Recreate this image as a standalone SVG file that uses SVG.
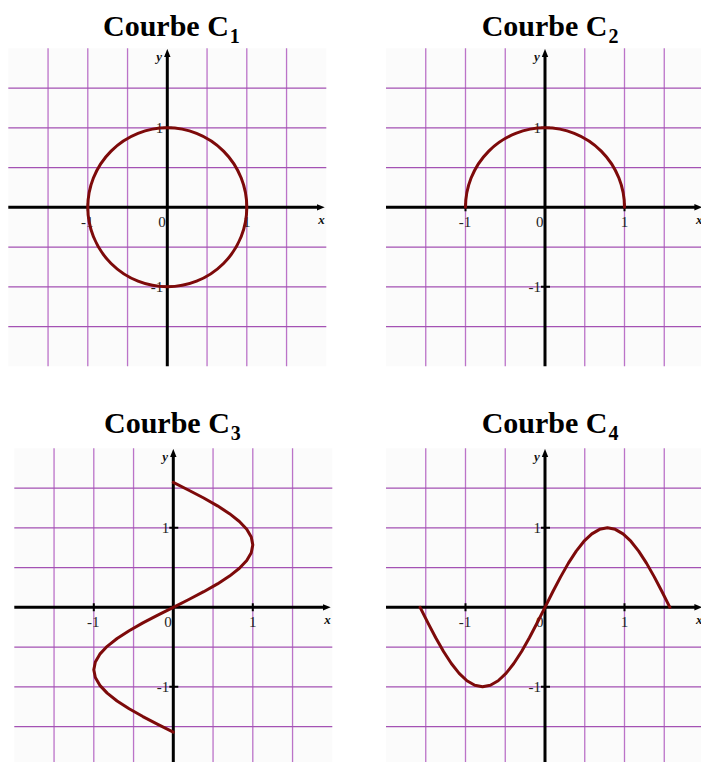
<svg xmlns="http://www.w3.org/2000/svg" width="701" height="762" viewBox="0 0 701 762">
<style>
.bg{fill:#fbfbfb;stroke:none}
.gv{stroke:#bb73c8;stroke-width:1.3;fill:none}
.gh{stroke:#a452b4;stroke-width:1.3;fill:none}
.ax{stroke:#000;stroke-width:3;fill:none}
.tk{stroke:#000;stroke-width:2;fill:none}
.cv{stroke:#7d0a0a;stroke-width:3;fill:none;stroke-linejoin:round;stroke-linecap:round}
.title{font-family:"Liberation Serif","Times New Roman",serif;font-weight:bold;font-size:30px;fill:#000}
.sub{font-size:20px}
.lb{font-family:"Liberation Serif","Times New Roman",serif;font-size:15px;fill:#222}
.al{font-family:"Liberation Serif","Times New Roman",serif;font-style:italic;font-weight:bold;font-size:13px;fill:#111}
</style>
<defs>
<marker id="arr" viewBox="0 0 10 10" refX="2" refY="5" markerWidth="8" markerHeight="8" orient="auto" markerUnits="userSpaceOnUse"><path d="M0,1 L10,5 L0,9 z" fill="#000"/></marker>
<g id="grid">
<rect class="bg" x="-159" y="-159" width="318" height="318"/>
<path class="gv" d="M-119.25,-159V159M-79.5,-159V159M-39.75,-159V159M39.75,-159V159M79.5,-159V159M119.25,-159V159"/>
<path class="gh" d="M-159,-119.25H159M-159,-79.5H159M-159,-39.75H159M-159,39.75H159M-159,79.5H159M-159,119.25H159"/>
<line class="ax" x1="-159" y1="0" x2="151" y2="0" marker-end="url(#arr)"/>
<line class="ax" x1="0" y1="159" x2="0" y2="-152" marker-end="url(#arr)"/>
<path class="tk" d="M-79.5,-4V4M79.5,-4V4M-4,-79.5H5M-4,79.5H5"/>
<text class="lb" x="-80" y="20" text-anchor="middle">-1</text>
<text class="lb" x="-1.5" y="20" text-anchor="end">0</text>
<text class="lb" x="79.5" y="20" text-anchor="middle">1</text>
<text class="lb" x="-4" y="-74.5" text-anchor="end">1</text>
<text class="lb" x="-4" y="85" text-anchor="end">-1</text>
<text class="al" x="151" y="17">x</text>
<text class="al" x="-11" y="-146">y</text>
</g>
</defs>
<g id="panel1">
<text class="title" x="103" y="36">Courbe C<tspan class="sub" dx="1" dy="7">1</tspan></text>
<g transform="translate(167.3,207.3)">
<use href="#grid"/>
<circle class="cv" cx="0" cy="0" r="79.5"/>
</g>
</g>
<g id="panel2">
<text class="title" x="481.7" y="36">Courbe C<tspan class="sub" dx="1" dy="7">2</tspan></text>
<g transform="translate(545,207.3)">
<use href="#grid"/>
<path class="cv" d="M-79.5,0A79.5,79.5 0 0 1 79.5,0"/>
</g>
</g>
<g id="panel3">
<text class="title" x="104" y="433">Courbe C<tspan class="sub" dx="1" dy="7">3</tspan></text>
<g transform="translate(173.3,607.3)">
<use href="#grid"/>
<polyline class="cv" points="0,124.88 -15.51,117.07 -30.42,109.27 -44.17,101.46 -56.22,93.66 -66.10,85.85 -73.45,78.05 -77.97,70.24 -79.5,62.44 -77.97,54.63 -73.45,46.83 -66.10,39.02 -56.22,31.22 -44.17,23.41 -30.42,15.61 -15.51,7.80 0,0 15.51,-7.80 30.42,-15.61 44.17,-23.41 56.22,-31.22 66.10,-39.02 73.45,-46.83 77.97,-54.63 79.5,-62.44 77.97,-70.24 73.45,-78.05 66.10,-85.85 56.22,-93.66 44.17,-101.46 30.42,-109.27 15.51,-117.07 0,-124.88"/>
</g>
</g>
<g id="panel4">
<text class="title" x="481.7" y="433">Courbe C<tspan class="sub" dx="1" dy="7">4</tspan></text>
<g transform="translate(545,607.3)">
<use href="#grid"/>
<polyline class="cv" points="-124.88,0 -117.07,15.51 -109.27,30.42 -101.46,44.17 -93.66,56.22 -85.85,66.10 -78.05,73.45 -70.24,77.97 -62.44,79.5 -54.63,77.97 -46.83,73.45 -39.02,66.10 -31.22,56.22 -23.41,44.17 -15.61,30.42 -7.80,15.51 0,0 7.80,-15.51 15.61,-30.42 23.41,-44.17 31.22,-56.22 39.02,-66.10 46.83,-73.45 54.63,-77.97 62.44,-79.5 70.24,-77.97 78.05,-73.45 85.85,-66.10 93.66,-56.22 101.46,-44.17 109.27,-30.42 117.07,-15.51 124.88,0"/>
</g>
</g>
</svg>
